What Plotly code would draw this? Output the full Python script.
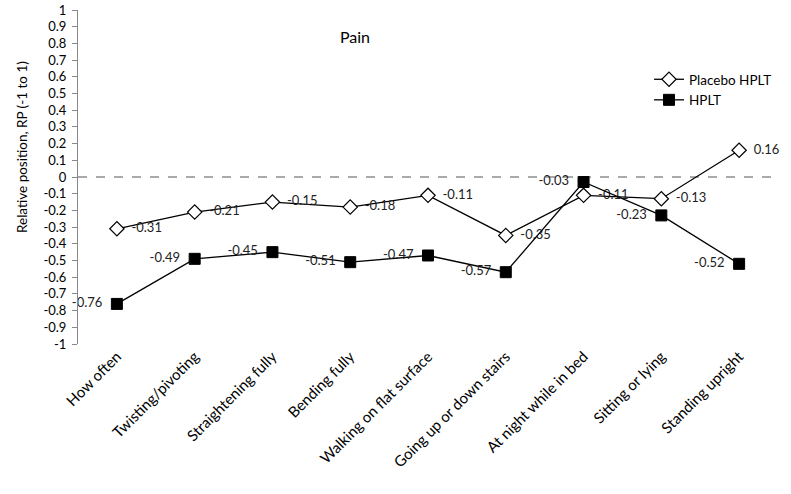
import plotly.graph_objects as go

categories = ["How often", "Twisting/pivoting", "Straightening fully", "Bending fully",
              "Walking on flat surface", "Going up or down stairs", "At night while in bed",
              "Sitting or lying", "Standing upright"]
placebo = [-0.31, -0.21, -0.15, -0.18, -0.11, -0.35, -0.11, -0.13, 0.16]
hplt = [-0.76, -0.49, -0.45, -0.51, -0.47, -0.57, -0.03, -0.23, -0.52]
ytick_vals = [1, 0.9, 0.8, 0.7, 0.6, 0.5, 0.4, 0.3, 0.2, 0.1, 0, -0.1, -0.2, -0.3, -0.4,
              -0.5, -0.6, -0.7, -0.8, -0.9, -1]
ytick_text = ["1", "0.9", "0.8", "0.7", "0.6", "0.5", "0.4", "0.3", "0.2", "0.1", "0",
              "-0.1", "-0.2", "-0.3", "-0.4", "-0.5", "-0.6", "-0.7", "-0.8", "-0.9", "-1"]

font = "Lato"
W, H = 791, 494

fig = go.Figure()
fig.add_trace(go.Scatter(
    x=categories, y=placebo, name="Placebo HPLT", mode="lines+markers+text",
    line=dict(color="black", width=1.3),
    marker=dict(symbol="diamond", size=11, color="white", line=dict(color="black", width=1.2)),
    text=["  " + f"{v:.2f}" for v in placebo],
    textposition="middle right", cliponaxis=False,
    textfont=dict(family=font, size=13, color="#222"),
))
fig.add_trace(go.Scatter(
    x=categories, y=hplt, name="HPLT", mode="lines+markers+text",
    line=dict(color="black", width=1.3),
    marker=dict(symbol="square", size=11, color="black", line=dict(color="black", width=1)),
    text=[f"{v:.2f}" + "  " for v in hplt],
    textposition="middle left", cliponaxis=False,
    textfont=dict(family=font, size=13, color="#222"),
))

fig.add_shape(type="line", xref="paper", yref="y", x0=0, x1=1, y0=0, y1=0,
              line=dict(color="#555", width=1, dash="dash"), layer="below")

fig.add_annotation(text="Relative position, RP (-1 to 1)", xref="paper", yref="paper",
                   x=(22 - 78) / 700, y=(344 - 147) / 334, textangle=-90,
                   xanchor="center", yanchor="middle", showarrow=False,
                   font=dict(family=font, size=13.5, color="black"))

fig.update_layout(
    width=W, height=H,
    margin=dict(l=78, r=13, t=10, b=150),
    paper_bgcolor="white", plot_bgcolor="white",
    font=dict(family=font, color="black"),
    title=dict(text="Pain", x=355 / W, xanchor="center", y=1 - 37 / H, yanchor="middle",
               font=dict(family=font, size=16, color="black")),
    legend=dict(x=(649 - 78) / 700, y=(344 - 64) / 334, xanchor="left", yanchor="top",
                font=dict(family=font, size=13.5, color="black"),
                bgcolor="rgba(0,0,0,0)", tracegroupgap=2),
    showlegend=True,
)
fig.update_xaxes(type="category", range=[-0.5, 8.5], showline=False, showgrid=False,
                 ticks="", tickangle=-45, tickfont=dict(family=font, size=15, color="black"),
                 zeroline=False, automargin=False)
fig.update_yaxes(range=[-1, 1], tickvals=ytick_vals, ticktext=ytick_text, showgrid=False,
                 zeroline=False, showline=True, linecolor="#888", linewidth=1,
                 ticks="outside", ticklen=5, tickcolor="#888", automargin=False,
                 ticklabelstandoff=3,
                 tickfont=dict(family=font, size=13, color="black"))

fig.write_html("out.html", config={"displayModeBar": False},
               post_script="document.body.style.margin='0';")
